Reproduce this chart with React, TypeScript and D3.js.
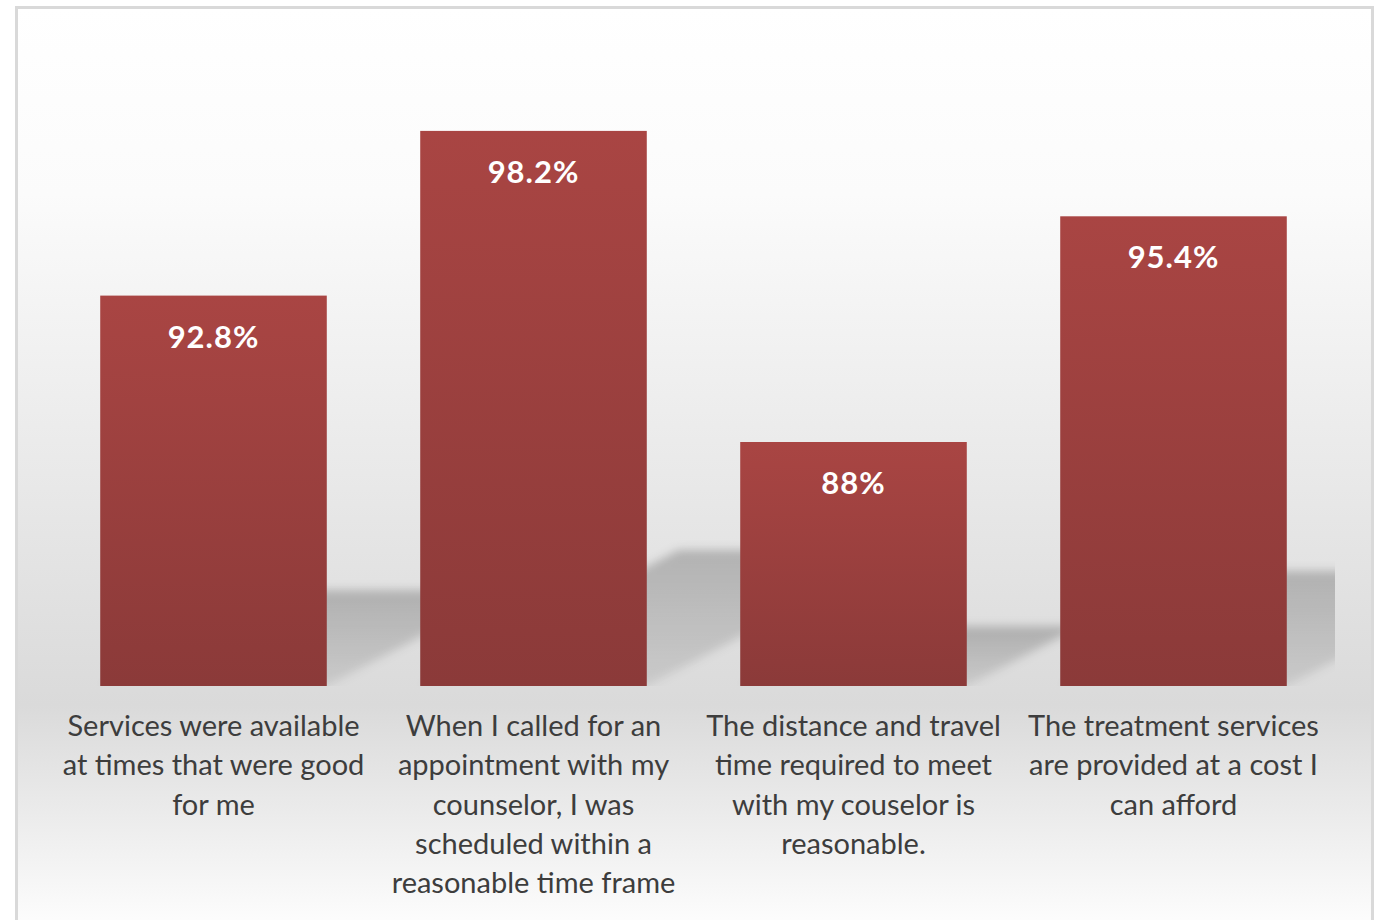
import React from "react";
import * as d3 from "d3";

const categories: string[][] = [
  ["Services were available", "at times that were good", "for me"],
  ["When I called for an", "appointment with my", "counselor, I was", "scheduled within a", "reasonable time frame"],
  ["The distance and travel", "time required to meet", "with my couselor is", "reasonable."],
  ["The treatment services", "are provided at a cost I", "can afford"],
];
const values: number[] = [92.8, 98.2, 88, 95.4];
const valueLabels: string[] = ["92.8%", "98.2%", "88%", "95.4%"];

const W = 1378;
const H = 920;
const plot = { left: 53.5, right: 1333.5, top: 76, bottom: 686 };
const FONT = "Lato, 'Open Sans', sans-serif";

export default function App() {
  const ids = categories.map((_, i) => String(i));
  const x = d3
    .scaleBand<string>()
    .domain(ids)
    .range([plot.left, plot.right])
    .paddingInner(0.292)
    .paddingOuter(0.146);
  const y = d3.scaleLinear().domain([80, 100]).range([plot.bottom, plot.top]);
  const bw = x.bandwidth();

  const shadowPath = (i: number) => {
    const x0 = x(ids[i])!;
    const x1 = x0 + bw;
    const yb = y(80);
    const h = yb - y(values[i]);
    const sh = h * 0.245;
    const dx = sh * 1.9;
    const p = d3.path();
    p.moveTo(x0, yb);
    p.lineTo(x1, yb);
    p.lineTo(x1 + dx, yb - sh);
    p.lineTo(x0 + dx, yb - sh);
    p.closePath();
    return p.toString();
  };

  return (
    <svg
      width={W}
      height={H}
      style={{ position: "absolute", left: 0, top: 0, display: "block" }}
    >
      <defs>
        <linearGradient id="bg" x1="0" y1="0" x2="0" y2="1">
          <stop offset="0" stopColor="#ffffff" />
          <stop offset="0.2" stopColor="#fbfbfb" />
          <stop offset="0.75" stopColor="#dadada" />
          <stop offset="1" stopColor="#ffffff" />
        </linearGradient>
        <linearGradient id="bar" x1="0" y1="0" x2="0" y2="1">
          <stop offset="0" stopColor="#a94543" />
          <stop offset="1" stopColor="#8b3a39" />
        </linearGradient>
        <linearGradient id="sh" x1="0" y1="0" x2="0" y2="1">
          <stop offset="0" stopColor="#000" stopOpacity="0.22" />
          <stop offset="1" stopColor="#000" stopOpacity="0.08" />
        </linearGradient>
        <filter id="blur" x="-20%" y="-20%" width="140%" height="140%">
          <feGaussianBlur stdDeviation="5" />
        </filter>
        <clipPath id="plotclip">
          <rect x={plot.left} y={plot.top} width={1335 - plot.left} height={plot.bottom - plot.top} />
        </clipPath>
      </defs>
      <rect x={0} y={0} width={W} height={H} fill="#ffffff" />
      <rect x={16.5} y={7.5} width={1356} height={930} fill="url(#bg)" stroke="#d9d9d9" strokeWidth={3} />

      <g clipPath="url(#plotclip)">
        <g filter="url(#blur)">
          {values.map((_, i) => (
            <path key={i} d={shadowPath(i)} fill="url(#sh)" />
          ))}
        </g>
      </g>

      {values.map((v, i) => (
        <rect
          key={i}
          x={x(ids[i])}
          y={y(v)}
          width={bw}
          height={y(80) - y(v)}
          fill="url(#bar)"
        />
      ))}

      {values.map((v, i) => (
        <text
          key={i}
          x={x(ids[i])! + bw / 2}
          y={y(v) + 52}
          textAnchor="middle"
          fill="#ffffff"
          fontFamily={FONT}
          fontWeight={700}
          fontSize={31}
          letterSpacing={1}
        >
          {valueLabels[i]}
        </text>
      ))}

      {categories.map((lines, i) => (
        <text
          key={i}
          textAnchor="middle"
          fill="#3d3d3d"
          fontFamily={FONT}
          fontSize={29}
        >
          {lines.map((ln, j) => (
            <tspan key={j} x={x(ids[i])! + bw / 2} y={736 + j * 39.3}>
              {ln}
            </tspan>
          ))}
        </text>
      ))}
    </svg>
  );
}
